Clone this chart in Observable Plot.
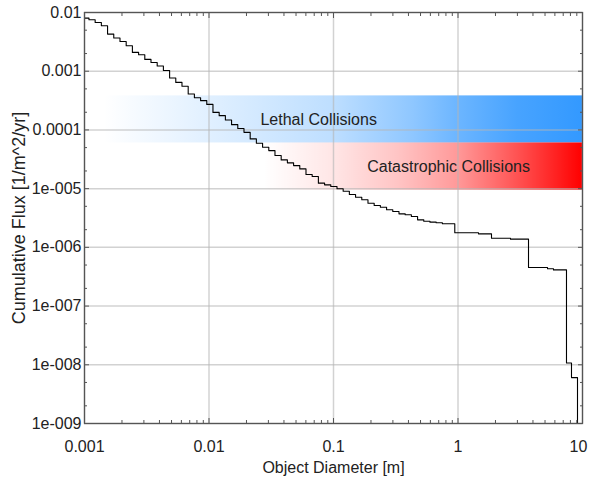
<!DOCTYPE html>
<html><head><meta charset="utf-8">
<script src="https://cdn.jsdelivr.net/npm/d3@7"></script>
<script src="https://cdn.jsdelivr.net/npm/@observablehq/plot@0.6"></script>
<style>html,body{margin:0;padding:0;background:#fff;}</style>
</head><body><div id="chart"></div>
<script>
// Step start diameters [m] and cumulative flux [1/m^2/yr]
const diameters = [0.001, 0.001086, 0.001218, 0.001366, 0.001532, 0.001718, 0.001928, 0.002162, 0.002425, 0.00272,
  0.00305, 0.00342, 0.003836, 0.004302, 0.004826, 0.00541, 0.006067, 0.006806, 0.007633, 0.00856,
  0.009598, 0.01076, 0.01207, 0.01354, 0.01518, 0.01703, 0.0191, 0.02142, 0.02402, 0.02694,
  0.03021, 0.03388, 0.038, 0.04262, 0.0478, 0.0536, 0.06012, 0.06742, 0.07561, 0.0848,
  0.0951, 0.1067, 0.1196, 0.1341, 0.1504, 0.1687, 0.1892, 0.2122, 0.238, 0.2669,
  0.2993, 0.3357, 0.3765, 0.4222, 0.4735, 0.531, 0.5957, 0.668, 0.7491,
  0.9423, 1.461, 1.858, 2.641, 3.684, 5.236, 5.85, 7.437, 8.158, 9.117, 10];
const flux = [0.00803, 0.00751, 0.00676, 0.00594, 0.00429, 0.00367, 0.00321, 0.00272, 0.00209, 0.00191,
  0.00159, 0.00141, 0.00123, 0.00103, 7.66e-4, 6.45e-4, 5.56e-4, 4.09e-4, 3.54e-4, 3.15e-4,
  2.72e-4, 1.99e-4, 1.75e-4, 1.48e-4, 1.23e-4, 1.06e-4, 9.1e-5, 7.03e-5, 5.92e-5, 5.06e-5,
  4.45e-5, 3.66e-5, 3.09e-5, 2.75e-5, 2.47e-5, 2.17e-5, 1.74e-5, 1.61e-5, 1.24e-5, 1.16e-5,
  1.09e-5, 9.93e-6, 9.04e-6, 7.94e-6, 7.15e-6, 6.45e-6, 5.65e-6, 5.16e-6, 4.83e-6, 4.36e-6,
  4.08e-6, 3.72e-6, 3.60e-6, 3.36e-6, 2.94e-6, 2.79e-6, 2.69e-6, 2.62e-6, 2.52e-6,
  1.77e-6, 1.70e-6, 1.43e-6, 1.38e-6, 4.55e-7, 4.33e-7, 4.13e-7, 1.07e-8, 6.05e-9, 1e-10, 1e-10];

const xTickValues = [0.001, 0.01, 0.1, 1, 10];
const xTickLabels = ["0.001", "0.01", "0.1", "1", "10"];
const yTickValues = [1e-9, 1e-8, 1e-7, 1e-6, 1e-5, 1e-4, 1e-3, 1e-2];
const yTickLabels = ["1e-009", "1e-008", "1e-007", "1e-006", "1e-005", "0.0001", "0.001", "0.01"];

const bandNames = ["Lethal Collisions", "Catastrophic Collisions"];
const bandLow = [6.0e-5, 9.4e-6];
const bandHigh = [3.8e-4, 6.0e-5];
const bandLabelX = [0.076, 0.84];
const bandXRange = [0.001, 10];

const xTitle = "Object Diameter [m]";
const yTitle = "Cumulative Flux [1/m^2/yr]";

const curve = diameters.map((d, i) => ({d, f: flux[i]}));
const bands = bandNames.map((name, i) => ({name, x1: bandXRange[0], x2: bandXRange[1], y1: bandLow[i], y2: bandHigh[i], lx: bandLabelX[i]}));

const xMinor = [];
for (const dec of [0.001, 0.01, 0.1, 1]) for (let m = 2; m <= 9; m++) xMinor.push(+(dec * m).toPrecision(3));
const yMinor = [];
for (const dec of [1e-9, 1e-8, 1e-7, 1e-6, 1e-5, 1e-4, 1e-3]) for (const m of [2, 5]) yMinor.push(+(dec * m).toPrecision(3));

const frameColor = "#555";
const textColor = "#222";
const fmtX = v => xTickLabels[xTickValues.indexOf(v)];

const chart = Plot.plot({
  width: 589, height: 489,
  marginLeft: 84, marginRight: 7, marginTop: 12, marginBottom: 66,
  style: {fontFamily: "'Liberation Sans', Arial, sans-serif", fontSize: "16px", color: textColor, background: "#fff"},
  x: {type: "log", domain: [0.001, 10], label: null},
  y: {type: "log", domain: [1e-9, 0.01], label: null},
  marks: [
    Plot.rect([bands[0]], {x1: "x1", x2: "x2", y1: "y1", y2: "y2", fill: "url(#gradLethal)"}),
    Plot.rect([bands[1]], {x1: "x1", x2: "x2", y1: "y1", y2: "y2", fill: "url(#gradCat)"}),
    Plot.gridX(xTickValues, {stroke: "#b4b4b4", strokeOpacity: 0.6, strokeWidth: 1.5}),
    Plot.gridY(yTickValues, {stroke: "#b4b4b4", strokeOpacity: 0.6, strokeWidth: 1.5}),
    Plot.text(bands, {x: "lx", y: d => Math.sqrt(d.y1 * d.y2), text: "name", fill: textColor, fontSize: 16}),
    Plot.line(curve, {x: "d", y: "f", curve: "step-after", stroke: "#000", strokeWidth: 1.1, clip: true}),
    Plot.frame({stroke: frameColor, strokeWidth: 1.3}),
    // labelled axes
    Plot.axisX({anchor: "bottom", ticks: xTickValues.slice(0, -1), tickFormat: fmtX, tickSize: 0, tickPadding: 17, label: null, fill: textColor}),
    Plot.axisX({anchor: "bottom", ticks: xTickValues.slice(-1), tickFormat: fmtX, tickSize: 0, tickPadding: 17, label: null, fill: textColor, dx: -4}),
    Plot.axisY({anchor: "left", ticks: yTickValues, tickFormat: v => yTickLabels[yTickValues.indexOf(v)], tickSize: 0, tickPadding: 3, label: null, fill: textColor}),
    // inward ticks on all four sides
    Plot.axisX({anchor: "bottom", ticks: xTickValues, tickSize: -5, fill: "none", stroke: frameColor, label: null}),
    Plot.axisX({anchor: "bottom", ticks: xMinor, tickSize: -3, fill: "none", stroke: frameColor, label: null}),
    Plot.axisX({anchor: "top", ticks: xTickValues, tickSize: -5, fill: "none", stroke: frameColor, label: null}),
    Plot.axisX({anchor: "top", ticks: xMinor, tickSize: -3, fill: "none", stroke: frameColor, label: null}),
    Plot.axisY({anchor: "left", ticks: yTickValues, tickSize: -5, fill: "none", stroke: frameColor, label: null}),
    Plot.axisY({anchor: "left", ticks: yMinor, tickSize: -3, fill: "none", stroke: frameColor, label: null}),
    Plot.axisY({anchor: "right", ticks: yTickValues, tickSize: -5, fill: "none", stroke: frameColor, label: null}),
    Plot.axisY({anchor: "right", ticks: yMinor, tickSize: -3, fill: "none", stroke: frameColor, label: null}),
    // axis titles
    Plot.text([xTitle], {frameAnchor: "bottom", dy: 44, lineAnchor: "middle", textAnchor: "middle", fill: textColor, fontSize: 16}),
    Plot.text([yTitle], {frameAnchor: "left", dx: -65, rotate: -90, lineAnchor: "middle", textAnchor: "middle", fill: textColor, fontSize: 18})
  ]
});

// gradients for the bands
const NS = "http://www.w3.org/2000/svg";
const defs = document.createElementNS(NS, "defs");
function gradient(id, color, stops) {
  const g = document.createElementNS(NS, "linearGradient");
  g.setAttribute("id", id);
  g.setAttribute("x1", "0"); g.setAttribute("x2", "1");
  g.setAttribute("y1", "0"); g.setAttribute("y2", "0");
  for (const [o, a] of stops) {
    const s = document.createElementNS(NS, "stop");
    s.setAttribute("offset", o);
    s.setAttribute("stop-color", color);
    s.setAttribute("stop-opacity", a);
    g.appendChild(s);
  }
  defs.appendChild(g);
}
gradient("gradLethal", "#3399ff", [[0.04, 0], [0.25, 0.15], [0.5, 0.32], [0.66, 0.55], [0.75, 0.72], [0.87, 0.9], [1, 1]]);
gradient("gradCat", "#ff0000", [[0.36, 0], [0.5, 0.1], [0.63, 0.23], [0.75, 0.4], [0.82, 0.56], [0.9, 0.75], [1, 1]]);
chart.insertBefore(defs, chart.firstChild);

document.getElementById("chart").appendChild(chart);
</script>
</body></html>
